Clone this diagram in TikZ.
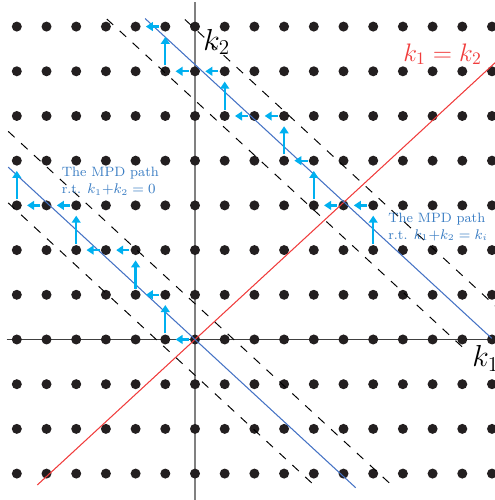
\documentclass[tikz,border=0pt]{standalone}
\usepackage{amsmath}
\usepackage{xcolor}
\usepackage{tikz}
\usetikzlibrary{arrows.meta}
\definecolor{dotblack}{HTML}{231F20}
\definecolor{axisgray}{HTML}{808080}
\definecolor{axisdark}{HTML}{404040}
\definecolor{lineblue}{HTML}{4472C4}
\definecolor{linered}{HTML}{F03C3C}
\definecolor{mpdcyan}{HTML}{00B0F0}
\definecolor{textblue}{HTML}{3A7DC3}
\tikzset{
  latdot/.style={circle,fill=dotblack,inner sep=0pt,minimum size=2mm},
  axisline/.style={line width=0.8pt},
  guide/.style={dash pattern=on 5pt off 5pt,line width=0.55pt,draw=black},
  mpdline/.style={line width=0.6pt,draw=lineblue},
  diagline/.style={line width=0.6pt,draw=linered},
  mpdstep/.style={-{Triangle[length=4pt,width=5pt]},line width=1.3pt,draw=mpdcyan,shorten <=0.5pt,shorten >=2.8pt},
  axislabel/.style={inner sep=0pt,font=\LARGE},
  pathnote/.style={inner sep=0pt,align=left,text=textblue,font=\fontsize{7.7}{9.6}\selectfont}
}

\begin{document}
\begin{tikzpicture}[x=0.594cm,y=0.894cm]
  \useasboundingbox (-6.566,-3.591) rectangle (10.101,7.595);

  % axes
  \coordinate (vbot) at (0,-3.6);
  \coordinate (vtop) at (0,7.55);
  \coordinate (hleft) at (-6.34,0);
  \coordinate (hright) at (10.2,0);
  \draw[axisline,axisgray] (vbot) -- (vtop);
  \draw[axisline,axisdark] (hleft) -- (hright);

  % lattice
  \foreach \k in {-6,...,10}
    \foreach \j in {-3,...,7}
      \node[latdot] (d\k-\j) at (\k,\j) {};

  % diagonal k1=k2
  \coordinate (rs) at (-5.31,-3.255);
  \coordinate (re) at (10.2,6.25);
  \draw[diagline] (rs) -- (re);

  % k1+k2=0 and its band
  \coordinate (b0s) at (-6.29,3.856);
  \coordinate (b0e) at (5.41,-3.316);
  \coordinate (g0as) at (-6.29,4.656);
  \coordinate (g0ae) at (6.62,-3.258);
  \coordinate (g0bs) at (-6.29,3.056);
  \coordinate (g0be) at (4.10,-3.313);
  \draw[guide] (g0as) -- (g0ae);
  \draw[guide] (g0bs) -- (g0be);
  \draw[mpdline] (b0s) -- (b0e);

  % k1+k2=ki and its band
  \coordinate (bis) at (-1.68,7.18);
  \coordinate (bie) at (9.99,0.026);
  \coordinate (gias) at (-2.97,7.17);
  \coordinate (giae) at (9.09,-0.222);
  \coordinate (gibs) at (-0.34,7.158);
  \coordinate (gibe) at (10.2,0.697);
  \draw[guide] (gias) -- (giae);
  \draw[guide] (gibs) -- (gibe);
  \draw[mpdline] (bis) -- (bie);

  % MPD steps
  \foreach \a/\b in {0-0/-1-0,-1-0/-1-1,-1-1/-2-1,-2-1/-2-2,-2-2/-3-2,-3-2/-4-2,-4-2/-4-3,-4-3/-5-3,-5-3/-6-3,-6-3/-6-4}
    \draw[mpdstep] (d\a) -- (d\b);
  \foreach \a/\b in {6-2/6-3,6-3/5-3,5-3/4-3,4-3/4-4,4-4/3-4,3-4/3-5,3-5/2-5,2-5/1-5,1-5/1-6,1-6/0-6,0-6/-1-6,-1-6/-1-7,-1-7/-2-7}
    \draw[mpdstep] (d\a) -- (d\b);

  % labels
  \node[axislabel,anchor=base west] (k2lab) at (0.27,6.476) {$k_2$};
  \node[axislabel,anchor=base west] (k1lab) at (9.33,-0.615) {$k_1$};
  \node[inner sep=0pt,font=\Large,text=linered,anchor=base west] (diaglab) at (7.0,6.23) {$k_1 = k_2$};
  \node[pathnote,anchor=north west] (note0) at (-4.495,3.859) {The MPD path\\r.t. $k_1{+}k_2 = 0$};
  \node[pathnote,anchor=north west] (notei) at (6.498,2.841) {The MPD path\\r.t. $k_1{+}k_2 = k_i$};
\end{tikzpicture}
\end{document}
